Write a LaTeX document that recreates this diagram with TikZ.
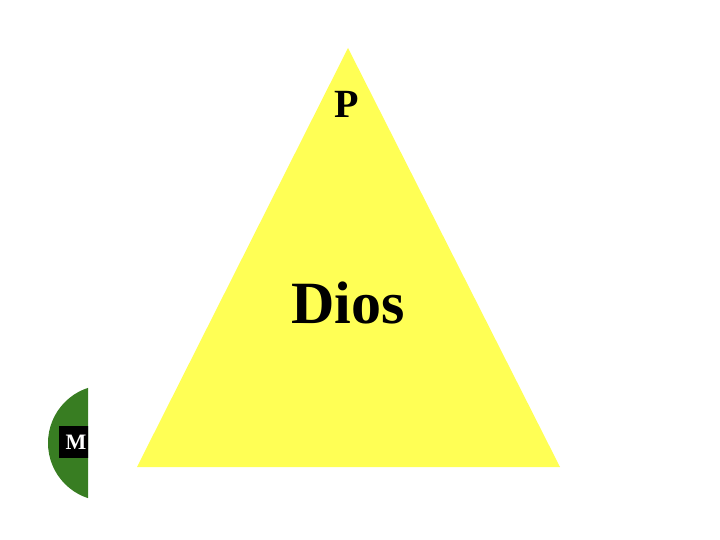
\documentclass[tikz,border=0pt]{standalone}
\usepackage{fontspec}
\setmainfont{Liberation Serif}
\usepackage{tikz}
\usetikzlibrary{calc,positioning}
\definecolor{diosYellow}{RGB}{255,255,85}
\definecolor{mGreen}{RGB}{56,125,34}

\begin{document}
\begin{tikzpicture}[x=1pt,y=-1pt]
\useasboundingbox (0,0) rectangle (720,540);
\fill[diosYellow] (348,48) -- (560,467) -- (137,467) -- cycle;
\node[font=\bfseries\fontsize{40}{40}\selectfont] (p) at (347,104) {P};
\node[font=\bfseries\fontsize{60}{60}\selectfont] (dios) at (348,303) {Dios};
\begin{scope}
\clip (0,0) rectangle (88,540);
\fill[mGreen] (106,443) circle[radius=58];
\node[fill=black, text=white, font=\bfseries\fontsize{22}{22}\selectfont,
  inner xsep=7pt, minimum height=32pt] (m) at (76,442) {M};
\end{scope}
\end{tikzpicture}
\end{document}
